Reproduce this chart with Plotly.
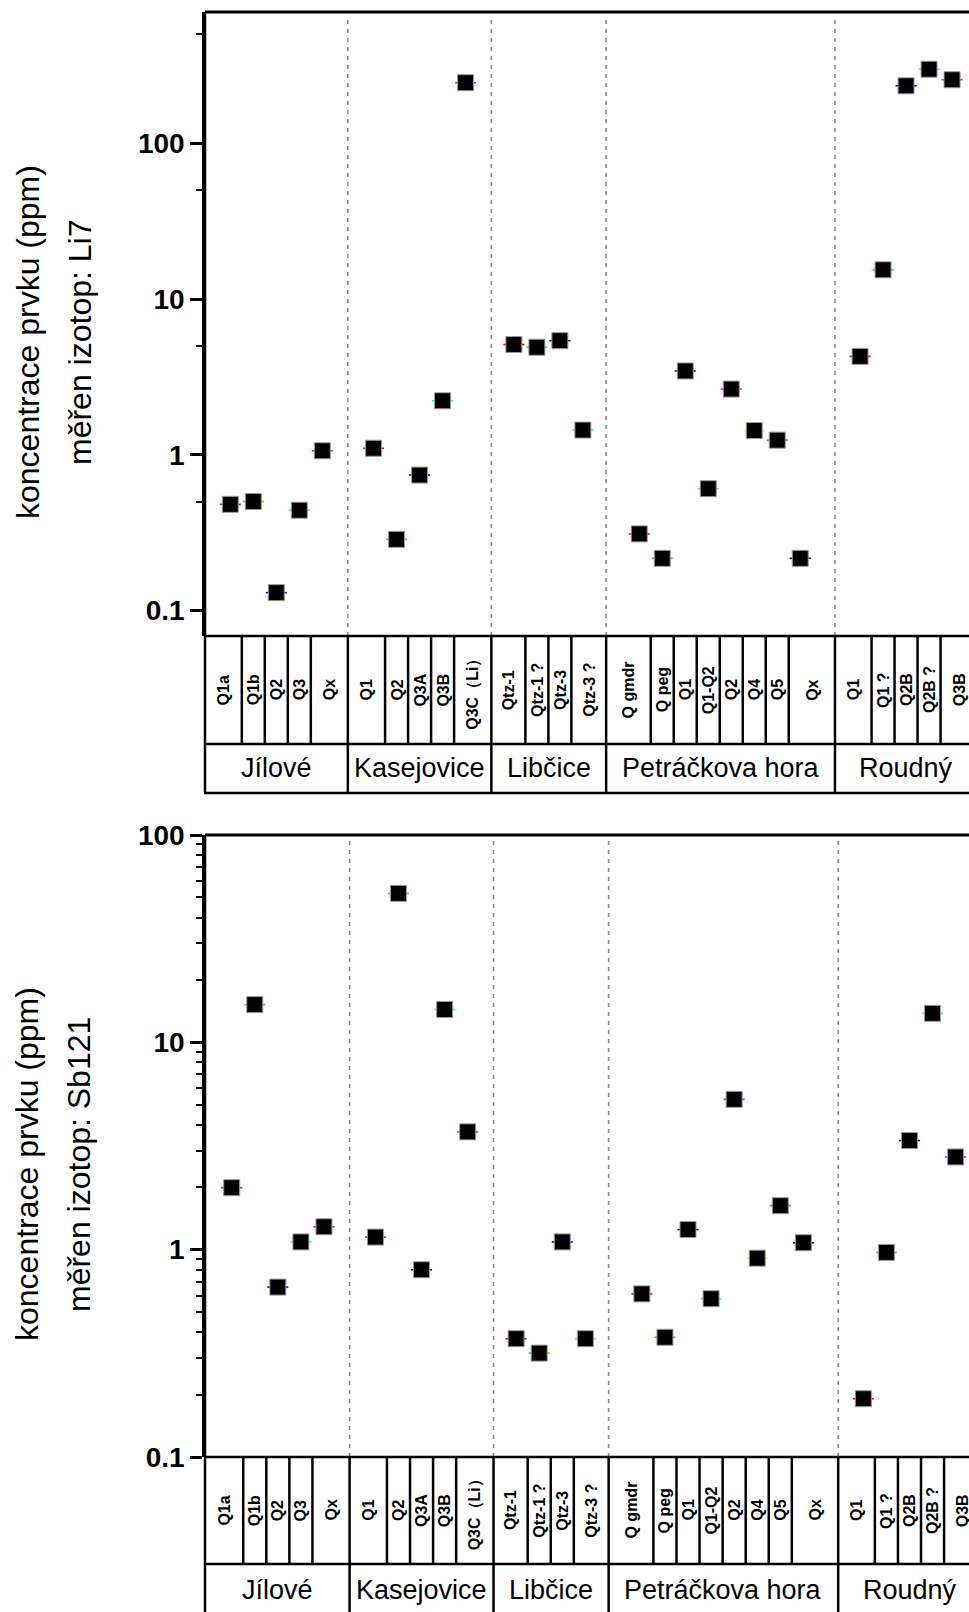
import plotly.graph_objects as go

# ---------------- data ----------------
groups = ["Jílové", "Kasejovice", "Libčice", "Petráčkova hora", "Roudný"]
samples = [
    ["Q1a", "Q1b", "Q2", "Q3", "Qx"],
    ["Q1", "Q2", "Q3A", "Q3B", "Q3C（Li）"],
    ["Qtz-1", "Qtz-1 ?", "Qtz-3", "Qtz-3 ?"],
    ["Q gmdr", "Q peg", "Q1", "Q1-Q2", "Q2", "Q4", "Q5", "Qx"],
    ["Q1", "Q1 ?", "Q2B", "Q2B ?", "Q3B"],
]
# x value of the first sample of each locality (samples follow in steps of 1)
group_x0 = [0.0, 6.23, 12.33, 17.78, 27.38]
# x values of the locality boundaries (between localities, and the end of the last one)
group_bounds = [5.11, 11.35, 16.34, 26.29, 32.5]

li7 = [
    [0.48, 0.50, 0.130, 0.44, 1.06],
    [1.10, 0.286, 0.74, 2.22, 245],
    [5.1, 4.9, 5.4, 1.44],
    [0.31, 0.216, 3.45, 0.605, 2.64, 1.43, 1.24, 0.216],
    [4.28, 15.4, 234, 299, 256],
]
sb121 = [
    [1.99, 15.2, 0.66, 1.09, 1.29],
    [1.15, 52.3, 0.80, 14.4, 3.70],
    [0.372, 0.317, 1.09, 0.372],
    [0.612, 0.378, 1.25, 0.58, 5.31, 0.91, 1.63, 1.08],
    [0.191, 0.97, 3.36, 13.8, 2.80],
]
panels = [
    {"values": li7, "title": ["koncentrace prvku (ppm)", "měřen izotop: Li7"]},
    {"values": sb121, "title": ["koncentrace prvku (ppm)", "měřen izotop: Sb121"]},
]
y_ticks = [0.1, 1, 10, 100]
y_ticktext = ["0.1", "1", "10", "100"]
series_colors = ["#FF0000", "#00FF00", "#0000FF", "#00FFFF", "#FF00FF",
                 "#FFFF00", "#808000", "#000080"]

# ---------------- layout geometry (pixels) ----------------
W, H = 969, 1612
FONT = "Liberation Sans, Arial, sans-serif"


def px_x(p):
    return p / W


def px_y(p):
    return 1 - p / H


geo = [
    dict(top=12, bottom=636, row1=744, row2=793, xrange=[-1.1, 32.117],
         yrange=[-1.1644, 2.8433], minor=[0.5, 5, 50, 500],
         t1=(28, 342), t2=(80, 343), draw_bottom=True),
    dict(top=835, bottom=1457, row1=1564, row2=1615, xrange=[-1.157, 31.96],
         yrange=[-1, 2],
         minor=[m * d for d in (0.1, 1, 10) for m in range(2, 10)],
         t1=(27, 1164), t2=(79, 1165), draw_bottom=False),
]
LEFT = 205

fig = go.Figure()
shapes = []
annotations = []

for k, (panel, g) in enumerate(zip(panels, geo)):
    xa = "x" if k == 0 else "x2"
    ya = "y" if k == 0 else "y2"
    # points
    for gi, vals in enumerate(panel["values"]):
        xs = [group_x0[gi] + i for i in range(len(vals))]
        cols = [series_colors[i % len(series_colors)] for i in range(len(vals))]
        fig.add_trace(go.Scatter(
            x=xs, y=vals, mode="markers", xaxis=xa, yaxis=ya, showlegend=False,
            marker=dict(symbol="line-ew", size=15, color=cols,
                        line=dict(color=cols, width=1.6)),
            hoverinfo="skip"))
        fig.add_trace(go.Scatter(
            x=xs, y=vals, mode="markers", xaxis=xa, yaxis=ya, showlegend=False,
            name=groups[gi], text=samples[gi],
            marker=dict(symbol="square", size=16, color="black",
                        line=dict(color="#9a9a9a", width=1))))

    # dashed separators
    for b in group_bounds[:-1]:
        shapes.append(dict(type="line", xref=xa, yref="paper", x0=b, x1=b,
                           y0=px_y(g["bottom"]), y1=px_y(g["top"] + 3),
                           line=dict(color="#8a8a8a", width=1.6, dash="4px,5px"),
                           layer="below"))
    # frame: top border, axis bottom / table lines
    lw = 2.5
    shapes.append(dict(type="line", xref="paper", yref="paper", x0=px_x(LEFT), x1=1,
                       y0=px_y(g["top"]), y1=px_y(g["top"]),
                       line=dict(color="black", width=3)))
    for yy in (g["bottom"], g["row1"]) + ((g["row2"],) if g["draw_bottom"] else ()):
        shapes.append(dict(type="line", xref="paper", yref="paper",
                           x0=px_x(LEFT - 1), x1=1, y0=px_y(yy), y1=px_y(yy),
                           line=dict(color="black", width=lw)))
    shapes.append(dict(type="line", xref="paper", yref="paper",
                       x0=px_x(LEFT), x1=px_x(LEFT), y0=px_y(g["top"]),
                       y1=px_y(min(g["row2"], H)), line=dict(color="black", width=lw)))

    # table cells
    left_edge = g["xrange"][0]
    for gi, names in enumerate(samples):
        gl = left_edge if gi == 0 else group_bounds[gi - 1]
        gr = group_bounds[gi]
        xs = [group_x0[gi] + i for i in range(len(names))]
        edges = [gl] + [(xs[i] + xs[i + 1]) / 2 for i in range(len(xs) - 1)] + [gr]
        for e in edges[1:-1]:
            shapes.append(dict(type="line", xref=xa, yref="paper", x0=e, x1=e,
                               y0=px_y(g["row1"]), y1=px_y(g["bottom"]),
                               line=dict(color="black", width=lw)))
        if gi < len(samples) - 1:
            shapes.append(dict(type="line", xref=xa, yref="paper", x0=gr, x1=gr,
                               y0=px_y(min(g["row2"], H)), y1=px_y(g["bottom"]),
                               line=dict(color="black", width=lw)))
        for i, name in enumerate(names):
            annotations.append(dict(
                x=(edges[i] + edges[i + 1]) / 2, xref=xa,
                y=px_y((g["bottom"] + g["row1"]) / 2), yref="paper",
                text=name, textangle=-90, showarrow=False,
                xanchor="center", yanchor="middle",
                font=dict(family=FONT, size=16, color="black", weight="bold")))
        annotations.append(dict(
            x=(gl + gr) / 2, xref=xa,
            y=px_y((g["row1"] + g["row2"]) / 2), yref="paper",
            text=groups[gi], showarrow=False, xanchor="center", yanchor="middle",
            font=dict(family=FONT, size=27, color="black")))

    # y titles
    for (tx, ty), txt in zip((g["t1"], g["t2"]), panel["title"]):
        annotations.append(dict(
            x=px_x(tx), y=px_y(ty), xref="paper", yref="paper", text=txt,
            textangle=-90, showarrow=False, xanchor="center", yanchor="middle",
            font=dict(family=FONT, size=32, color="black")))

    xdom = [px_x(LEFT), 1]
    ydom = [px_y(g["bottom"]), px_y(g["top"])]
    xkey = "xaxis" if k == 0 else "xaxis2"
    ykey = "yaxis" if k == 0 else "yaxis2"
    fig.update_layout(**{
        xkey: dict(domain=xdom, range=g["xrange"], anchor=ya, showgrid=False,
                   zeroline=False, showticklabels=False, ticks="", showline=False,
                   automargin=False),
        ykey: dict(domain=ydom, type="log", range=g["yrange"], anchor=xa,
                   showgrid=False, zeroline=False, showline=True,
                   linecolor="black", linewidth=2.5, automargin=False,
                   tickmode="array", tickvals=y_ticks, ticktext=y_ticktext,
                   ticks="outside", ticklen=12, tickwidth=2.5, tickcolor="black",
                   tickfont=dict(family=FONT, size=28, color="black", weight="bold"),
                   minor=dict(tickmode="array", tickvals=g["minor"], ticks="outside",
                              ticklen=6, tickwidth=2, tickcolor="black",
                              showgrid=False)),
    })

fig.update_layout(
    template="none",
    width=W, height=H, margin=dict(l=0, r=0, t=0, b=0, pad=0, autoexpand=False),
    paper_bgcolor="white", plot_bgcolor="white",
    shapes=shapes, annotations=annotations, showlegend=False,
)

fig.write_html("out.html")
